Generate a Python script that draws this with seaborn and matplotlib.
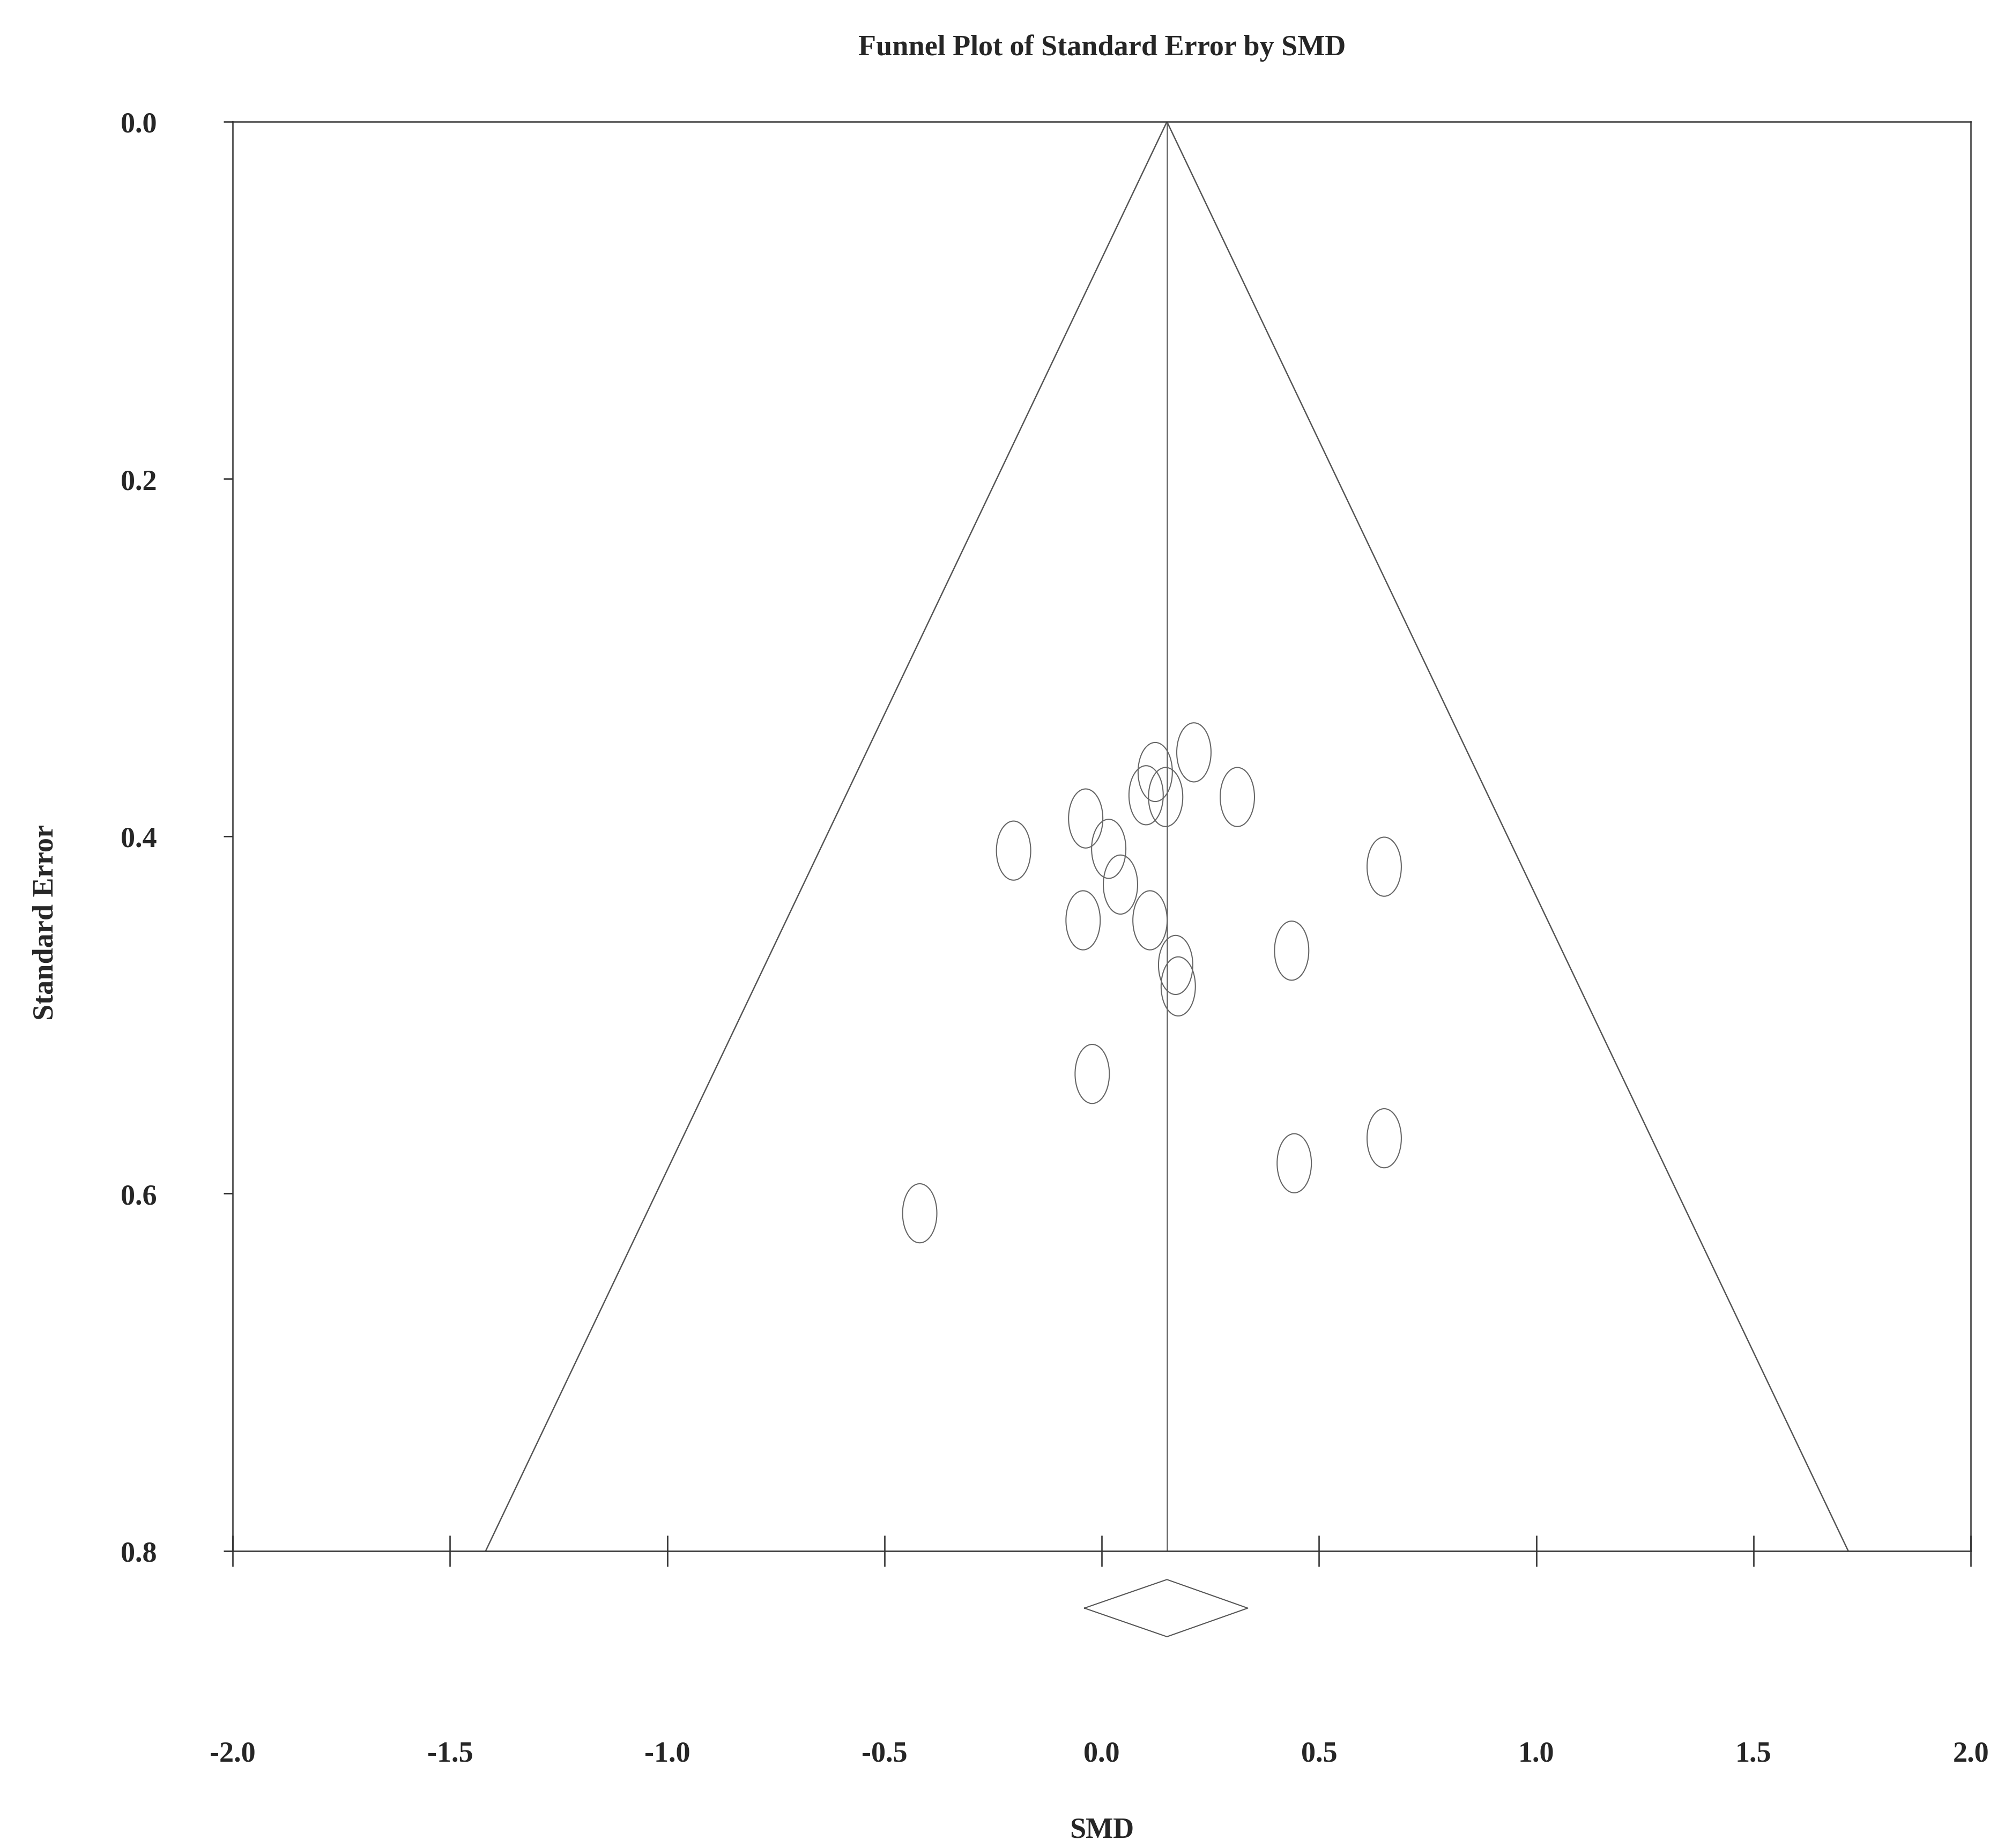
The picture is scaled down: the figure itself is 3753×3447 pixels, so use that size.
import numpy as np
import pandas as pd
import matplotlib
matplotlib.use("Agg")
import matplotlib.pyplot as plt
import seaborn as sns
from matplotlib.path import Path

smd = [0.212, 0.123, 0.102, 0.147, 0.312, -0.037, -0.203, 0.016, 0.650, 0.043,
       -0.043, 0.111, 0.437, 0.170, 0.176, -0.022, 0.650, 0.443, -0.419]
se = [0.353, 0.364, 0.377, 0.378, 0.378, 0.390, 0.408, 0.407, 0.417, 0.427,
      0.447, 0.447, 0.464, 0.472, 0.484, 0.533, 0.569, 0.583, 0.611]
pooled = 0.150
pooled_lo, pooled_hi = -0.040, 0.336
x_ticks = [-2.0, -1.5, -1.0, -0.5, 0.0, 0.5, 1.0, 1.5, 2.0]
y_ticks = [0.0, 0.2, 0.4, 0.6, 0.8]

df = pd.DataFrame({"SMD": smd, "SE": se})

sns.set_style("white")
plt.rcParams['font.family'] = ['Liberation Serif', 'DejaVu Serif']
plt.rcParams['font.weight'] = 'bold'

fig = plt.figure(figsize=(12.51, 11.493), dpi=300)
ax = fig.add_axes([0.1157, 0.1607, 0.8638, 0.7732])

# funnel
se_max = 0.8
ax.plot([pooled - 1.96 * se_max, pooled, pooled + 1.96 * se_max], [se_max, 0, se_max],
        color="#555555", lw=0.6)
ax.plot([pooled, pooled], [0, se_max], color="#666666", lw=0.6)

t = np.linspace(0, 2 * np.pi, 60)
ell = Path(np.column_stack([0.58 * np.cos(t), np.sin(t)]))
sns.scatterplot(data=df, x="SMD", y="SE", marker=ell, s=700, facecolors="none",
                edgecolors="#666666", linewidths=0.5, ax=ax, zorder=3)

# summary diamond below the axis
dy = 0.016
ax.plot([pooled_lo, pooled, pooled_hi, pooled, pooled_lo],
        [0.832, 0.832 - dy, 0.832, 0.832 + dy, 0.832],
        color="#555555", lw=0.5, clip_on=False)

ax.set_xlim(-2, 2)
ax.set_ylim(0.8, 0)
ax.set_xticks(x_ticks)
ax.set_xticklabels([f"{v:.1f}" for v in x_ticks])
ax.set_yticks(y_ticks)
ax.set_yticklabels([f"{v:.1f}" for v in y_ticks])
ax.tick_params(axis="x", direction="inout", length=14, width=0.6, pad=78,
               labelsize=13, bottom=True)
ax.tick_params(axis="y", direction="out", length=4, width=0.6, pad=30,
               labelsize=13, left=True)
for sp in ax.spines.values():
    sp.set_linewidth(0.6)
    sp.set_color("#333333")

ax.set_xlabel("SMD", fontsize=13, fontweight="bold", labelpad=22)
ax.set_ylabel("Standard Error", fontsize=13, fontweight="bold", labelpad=24)
ax.yaxis.set_label_coords(-0.1, 0.44)
ax.set_title("Funnel Plot of Standard Error by SMD", fontsize=13,
             fontweight="bold", pad=30)

fig.savefig("out.png", dpi=300)
